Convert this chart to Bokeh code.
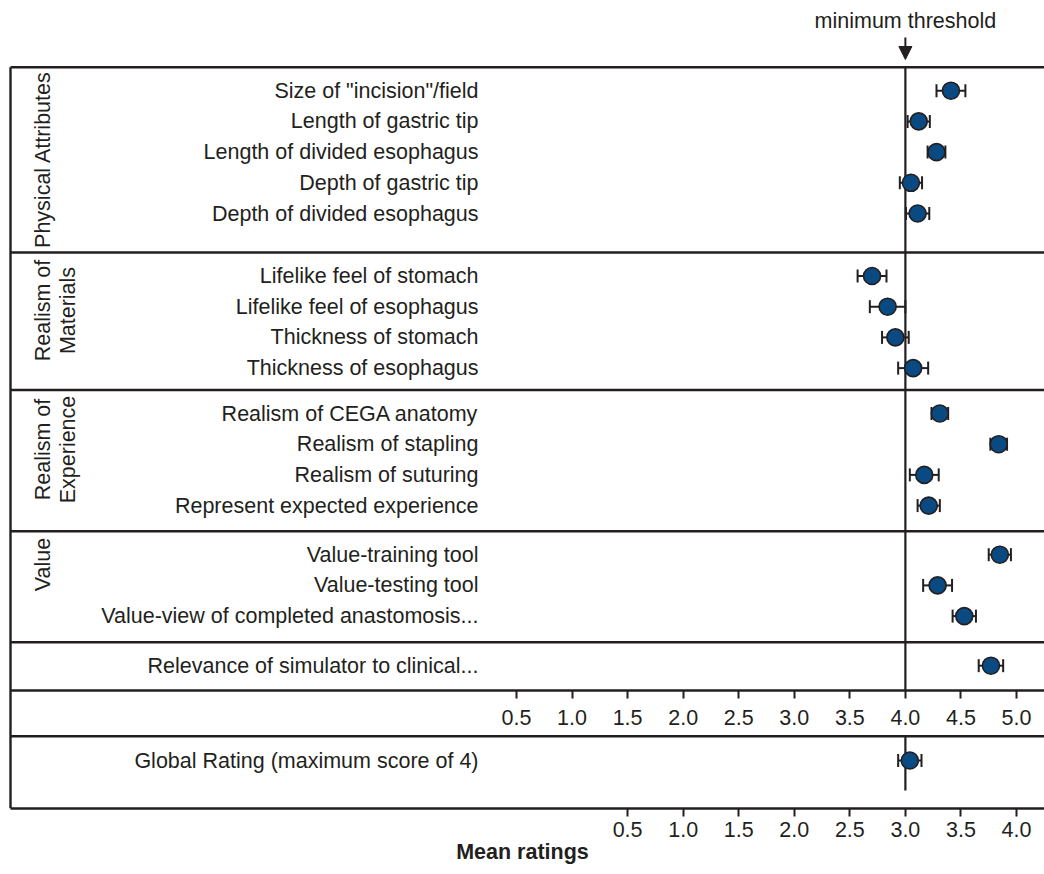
import numpy as np
from bokeh.plotting import figure
from bokeh.models import (ColumnDataSource, Range1d, LinearAxis, FixedTicker,
                          PrintfTickFormatter, Whisker, TeeHead, Arrow, NormalHead)
from bokeh.core.properties import value
from bokeh.embed import file_html
from bokeh.resources import INLINE

# ---------------- data ----------------
groups = ["Physical Attributes", "Realism of\nMaterials", "Realism of\nExperience", "Value", ""]
group_sizes = [5, 4, 4, 3, 1]
items = [
    'Size of "incision"/field',
    "Length of gastric tip",
    "Length of divided esophagus",
    "Depth of gastric tip",
    "Depth of divided esophagus",
    "Lifelike feel of stomach",
    "Lifelike feel of esophagus",
    "Thickness of stomach",
    "Thickness of esophagus",
    "Realism of CEGA anatomy",
    "Realism of stapling",
    "Realism of suturing",
    "Represent expected experience",
    "Value-training tool",
    "Value-testing tool",
    "Value-view of completed anastomosis...",
    "Relevance of simulator to clinical...",
]
means = [4.41, 4.12, 4.28, 4.05, 4.11,
         3.70, 3.84, 3.91, 4.07,
         4.31, 4.84, 4.17, 4.21,
         4.85, 4.29, 4.53,
         4.77]
errors = [0.13, 0.10, 0.08, 0.10, 0.105,
          0.13, 0.16, 0.12, 0.135,
          0.075, 0.075, 0.13, 0.10,
          0.10, 0.13, 0.105,
          0.11]
global_label = ["Global Rating (maximum score of 4)"]
global_mean = [3.04]
global_error = [0.105]
threshold = 4.0
global_threshold = 3.0
ticks_main = [0.5, 1.0, 1.5, 2.0, 2.5, 3.0, 3.5, 4.0, 4.5, 5.0]
ticks_global = [0.5, 1.0, 1.5, 2.0, 2.5, 3.0, 3.5, 4.0]
axis_title = "Mean ratings"
annotation_text = "minimum threshold"

# ---------------- layout / style ----------------
INK = "#231f20"
BLUE = "#0a4a82"
FONT = "Liberation Sans"
FS = "21.5px"
FRAME_W, FRAME_H = 1044, 808
PX_PER_UNIT = 111.11
ORIGIN_PX = 516.0          # frame px where value 0.5 sits
x_main = Range1d(0.5 - ORIGIN_PX / PX_PER_UNIT, 0.5 + (FRAME_W - ORIGIN_PX) / PX_PER_UNIT)
shift = threshold - global_threshold
x_glob = Range1d(x_main.start - shift, x_main.end - shift)
y_rng = Range1d(FRAME_H, 0)

left_edge = x_main.start + 10.0 / PX_PER_UNIT
panel_edges = [66.7, 252.0, 389.5, 530.7, 641.7, 690.0]
ROW0, ROW_STEP = 23.5, 30.7
group_label_y = [159.0, 310.0, 449.0, 564.0]
band_y = 735.7
global_row_y = 760.0
global_line_end = 790.0

row_y = []
for g, n in enumerate(group_sizes):
    for k in range(n):
        row_y.append(panel_edges[g] + ROW0 + k * ROW_STEP)

p = figure(frame_width=FRAME_W, frame_height=FRAME_H, x_range=x_main, y_range=y_rng,
           x_axis_location=None, y_axis_location=None, toolbar_location=None,
           output_backend="svg", min_border_left=0, min_border_right=0,
           min_border_top=0, min_border_bottom=0, outline_line_color=None,
           background_fill_color="white", border_fill_color="white")
p.extra_x_ranges = {"global": x_glob}
p.grid.visible = False


def style_axis(ax, standoff):
    ax.axis_line_width = 2.4
    ax.axis_line_color = INK
    ax.major_tick_line_width = 2
    ax.major_tick_line_color = INK
    ax.major_tick_out = 8
    ax.major_tick_in = 0
    ax.minor_tick_out = 0
    ax.minor_tick_in = 0
    ax.major_label_text_font = FONT
    ax.major_label_text_font_size = FS
    ax.major_label_text_color = INK
    ax.major_label_standoff = standoff


ax_g = LinearAxis(x_range_name="global", ticker=FixedTicker(ticks=ticks_global),
                  formatter=PrintfTickFormatter(format="%.1f"), axis_label=axis_title,
                  bounds=(x_glob.start + 10.0 / PX_PER_UNIT, x_glob.end))
style_axis(ax_g, 5)
ax_g.axis_label_text_font = FONT
ax_g.axis_label_text_font_size = FS
ax_g.axis_label_text_font_style = "bold"
ax_g.axis_label_text_color = INK
ax_g.axis_label_standoff = 0
p.add_layout(ax_g, "below")

ax_m = LinearAxis(ticker=FixedTicker(ticks=ticks_main),
                  formatter=PrintfTickFormatter(format="%.1f"),
                  fixed_location=panel_edges[-1], bounds=(left_edge, x_main.end))
style_axis(ax_m, 11)
p.add_layout(ax_m, "below")

# box lines
seps = panel_edges[:-1] + [band_y]
p.segment(x0=[left_edge] * len(seps), y0=seps, x1=[x_main.end] * len(seps), y1=seps,
          line_width=2.4, line_color=INK)
p.segment(x0=[left_edge], y0=[panel_edges[0]], x1=[left_edge], y1=[FRAME_H],
          line_width=2.4, line_color=INK)

# threshold lines
p.segment(x0=[threshold], y0=[panel_edges[0]], x1=[threshold], y1=[panel_edges[-1]],
          line_width=2.2, line_color=INK)
p.segment(x0=[global_threshold], y0=[band_y], x1=[global_threshold], y1=[global_line_end],
          line_width=2.2, line_color=INK, x_range_name="global")

p.add_layout(Arrow(end=NormalHead(size=13, fill_color=INK, line_color=INK, line_width=1),
                   x_start=threshold, y_start=37, x_end=threshold, y_end=59,
                   line_width=2, line_color=INK))
p.text(x=[threshold], y=[20], text=[annotation_text], text_align="center",
       text_baseline="middle", text_font=value(FONT), text_font_size=FS, text_color=INK)

# item labels
lab_src = ColumnDataSource(dict(x=[x_main.start] * (len(items) + 1),
                                y=row_y + [global_row_y], text=items + global_label))
p.text(x="x", y="y", text="text", source=lab_src, x_offset=478, text_align="right",
       text_baseline="middle", text_font=value(FONT), text_font_size=FS, text_color=INK)

# group labels
grp_src = ColumnDataSource(dict(x=[x_main.start] * 4, y=group_label_y, text=groups[:4]))
p.text(x="x", y="y", text="text", source=grp_src, angle=np.pi / 2, x_offset=30,
       text_align="center", text_baseline="top", text_line_height=1.05,
       text_font=value(FONT), text_font_size=FS, text_color=INK)

# points + error bars
m = np.array(means)
e = np.array(errors)
src = ColumnDataSource(dict(x=m, y=row_y, lower=m - e, upper=m + e))
w = Whisker(source=src, base="y", lower="lower", upper="upper", dimension="width",
            line_width=2, line_color=INK, level="underlay",
            upper_head=TeeHead(size=13, line_width=2, line_color=INK),
            lower_head=TeeHead(size=13, line_width=2, line_color=INK))
p.add_layout(w)
p.scatter("x", "y", source=src, size=17, fill_color=BLUE, line_color=INK, line_width=1.6)

gm = np.array(global_mean)
ge = np.array(global_error)
gsrc = ColumnDataSource(dict(x=gm, y=[global_row_y], lower=gm - ge, upper=gm + ge))
gw = Whisker(source=gsrc, base="y", lower="lower", upper="upper", dimension="width",
             line_width=2, line_color=INK, level="underlay", x_range_name="global",
             upper_head=TeeHead(size=13, line_width=2, line_color=INK),
             lower_head=TeeHead(size=13, line_width=2, line_color=INK))
p.add_layout(gw)
p.scatter("x", "y", source=gsrc, size=17, fill_color=BLUE, line_color=INK, line_width=1.6,
          x_range_name="global")

open("out.html", "w").write(file_html(p, INLINE))
